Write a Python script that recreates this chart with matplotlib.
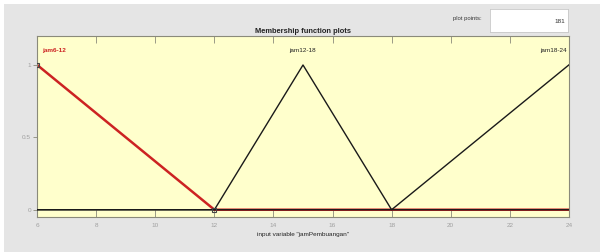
import matplotlib
matplotlib.use("Agg")
import matplotlib.pyplot as plt
from matplotlib.patches import Rectangle

plt.rcParams['font.family'] = ['Liberation Sans', 'DejaVu Sans']

# membership functions of input "jamPembuangan"
mf_names = ["jam6-12", "jam12-18", "jam18-24"]
mf_x = [[6, 12, 24], [6, 12, 15, 18, 24], [6, 18, 24]]
mf_y = [[1, 0, 0], [0, 0, 1, 0, 0], [0, 0, 1]]
mf_label_x = [6.15, 15, 23.95]
selected = 0
selected_vertices_x = [6, 12]
selected_vertices_y = [1, 0]

x_ticks = [6, 8, 10, 12, 14, 16, 18, 20, 22, 24]
y_ticks = [0, 0.5, 1]
plot_points = "181"

fig = plt.figure(figsize=(6, 2.52), dpi=100, facecolor="#e5e5e5")
# white strip along the top and left border of the screenshot
fig.add_artist(Rectangle((0, 0.984), 1, 0.016, transform=fig.transFigure,
                         facecolor="white", edgecolor="none", zorder=-1))
fig.add_artist(Rectangle((0, 0), 0.007, 1, transform=fig.transFigure,
                         facecolor="white", edgecolor="none", zorder=-1))

ax = fig.add_axes([0.062, 0.139, 0.886, 0.718])
ax.set_facecolor("#ffffcc")
for s in ax.spines.values():
    s.set_color("#8a8a7a")
    s.set_linewidth(0.8)

# selected MF first (red, thick), others drawn over it
for i in range(len(mf_names)):
    if i == selected:
        ax.plot(mf_x[i], mf_y[i], color="#cc2222", lw=1.8, zorder=2)
    else:
        ax.plot(mf_x[i], mf_y[i], color="#1a1a1a", lw=1.0, zorder=3)

ax.plot(selected_vertices_x, selected_vertices_y, linestyle="none", marker="s",
        markersize=3.5, mfc="none", mec="#444444", mew=0.8, zorder=4)

for i, name in enumerate(mf_names):
    ha = "left" if i == 0 else ("right" if i == len(mf_names) - 1 else "center")
    color = "#cc2222" if i == selected else "#222222"
    weight = "bold" if i == selected else "normal"
    ax.text(mf_label_x[i], 1.1, name, ha=ha, va="center", fontsize=4.6,
            color=color, fontweight=weight)

ax.set_xlim(6, 24)
ax.set_ylim(-0.05, 1.2)
ax.set_xticks(x_ticks)
ax.set_xticklabels([str(t) for t in x_ticks])
ax.set_yticks(y_ticks)
ax.set_yticklabels(["0", "0.5", "1"])
ax.tick_params(axis="x", direction="in", length=5, width=0.6, colors="#8a8a7a",
               labelcolor="#a0a0a0", labelsize=4.6, top=True, pad=4)
ax.tick_params(axis="y", direction="out", length=3, width=0.6, colors="#8a8a7a",
               labelcolor="#a0a0a0", labelsize=4.6, pad=1.5)

ax.set_title("Membership function plots", fontsize=5.4, fontweight="bold",
             color="#222222", pad=2)
ax.set_xlabel('input variable "jamPembuangan"', fontsize=4.6, color="#222222",
              labelpad=3)

# "plot points" field
fig.text(0.755, 0.928, "plot points:", fontsize=4.2, color="#333333",
         ha="left", va="center")
box = fig.add_axes([0.817, 0.873, 0.13, 0.09])
box.set_xticks([])
box.set_yticks([])
box.set_facecolor("white")
for s in box.spines.values():
    s.set_color("#c8c8c8")
    s.set_linewidth(0.6)
box.text(0.96, 0.45, plot_points, transform=box.transAxes, ha="right",
         va="center", fontsize=4.6, color="#333333")

fig.savefig("out.png", dpi=100, facecolor=fig.get_facecolor())
